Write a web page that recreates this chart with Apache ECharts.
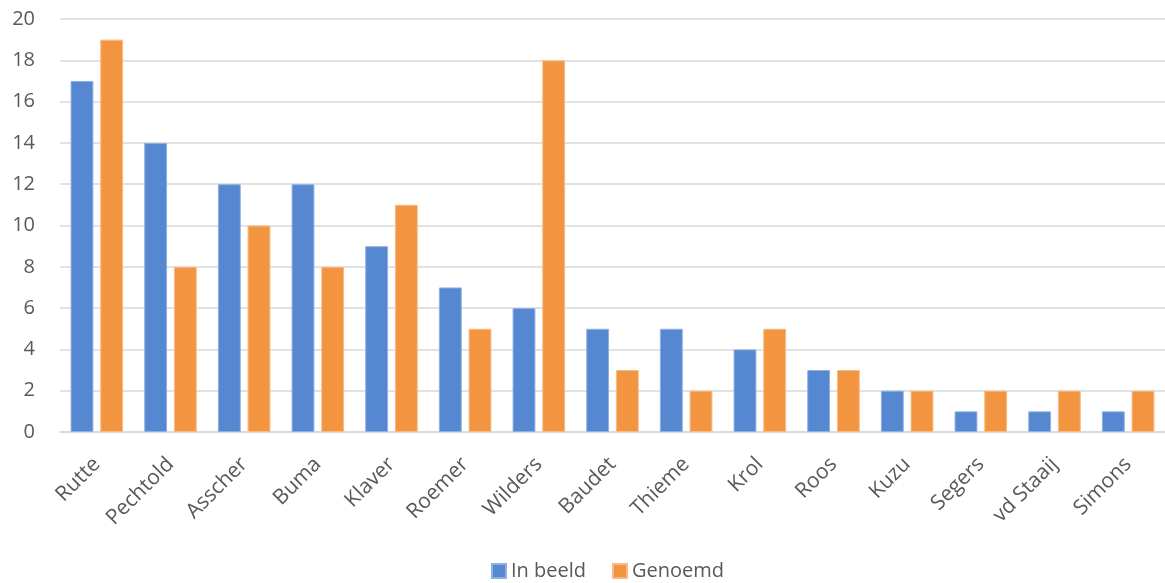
<!DOCTYPE html>
<html><head><meta charset="utf-8">
<script src="https://cdn.jsdelivr.net/npm/echarts@6/dist/echarts.min.js"></script>
<style>html,body{margin:0;padding:0;background:#fff}#c{width:1165px;height:583px}</style>
</head><body><div id="c"></div>
<script>
const categories = ["Rutte","Pechtold","Asscher","Buma","Klaver","Roemer","Wilders","Baudet","Thieme","Krol","Roos","Kuzu","Segers","vd Staaij","Simons"];
const inBeeld = [17,14,12,12,9,7,6,5,5,4,3,2,1,1,1];
const genoemd = [19,8,10,8,11,5,18,3,2,5,3,2,2,2,2];
const yTicks = {min:0, max:20, interval:2};

const chart = echarts.init(document.getElementById('c'));
const font = "'Open Sans', sans-serif";
chart.setOption({
  animation:false,
  grid:{left:60,right:0,top:19,bottom:151},
  legend:{bottom:-3,left:486,itemWidth:14,itemHeight:14,icon:'rect',itemGap:26,
    textStyle:{fontFamily:font,fontSize:20,color:'#595959'}},
  xAxis:{type:'category',data:categories,
    axisLine:{lineStyle:{color:'#d9d9d9',width:1.5}},axisTick:{show:false},
    axisLabel:{rotate:45,fontFamily:font,fontSize:21,color:'#595959',margin:29,interval:0}},
  yAxis:{type:'value',min:yTicks.min,max:yTicks.max,interval:yTicks.interval,
    axisLine:{show:false},axisTick:{show:false},
    splitLine:{lineStyle:{color:'#d9d9d9',width:1.5}},
    axisLabel:{fontFamily:font,fontSize:20,color:'#595959',margin:25}},
  series:[
    {name:'In beeld',type:'bar',data:inBeeld,barWidth:'31%',barGap:'30%',
      itemStyle:{color:'#5687D1',borderColor:'#8fb0e3',borderWidth:1}},
    {name:'Genoemd',type:'bar',data:genoemd,barWidth:'31%',barGap:'30%',
      itemStyle:{color:'#F29440',borderColor:'#f7bb85',borderWidth:1}}
  ]
});
</script></body></html>
